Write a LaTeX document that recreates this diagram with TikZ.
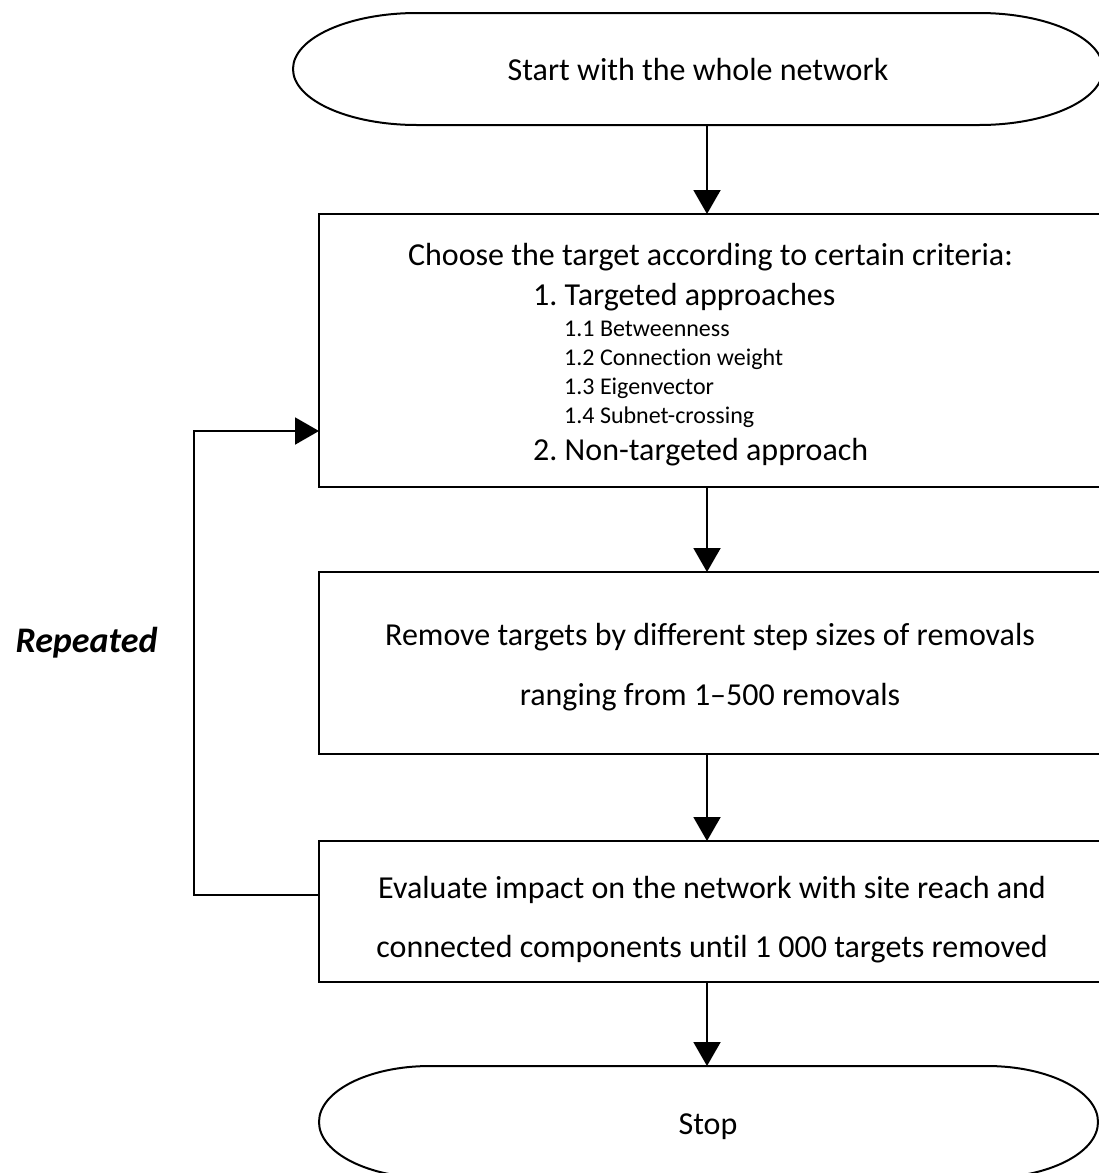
\documentclass[tikz,border=0pt]{standalone}
\usepackage{fontspec}
\setmainfont{Carlito}[Ligatures={TeX,NoCommon}]
\usetikzlibrary{arrows.meta}
\frenchspacing
\begin{document}
\begin{tikzpicture}[x=1pt,y=-1pt,
  outline/.style={draw=black, line width=2pt},
  procbox/.style={outline, rectangle, inner sep=0pt, outer sep=0pt, minimum width=782pt},
  termshape/.style={inner sep=0pt, outer sep=0pt},
  flow/.style={line width=2pt, -{Triangle[width=27pt,length=24pt]}},
  bigtext/.style={font=\fontsize{32}{38}\selectfont, inner sep=0pt},
  smalltext/.style={font=\fontsize{24}{29}\selectfont, inner sep=0pt},
]
\useasboundingbox (0,0) rectangle (1099,1173);
\clip (0,0) rectangle (1099,1173);

% terminators (start / stop)
\node[termshape, minimum width=810pt, minimum height=112pt] (start) at (698,69) {};
\node[termshape, minimum width=779pt, minimum height=112pt] (stop) at (708.5,1122) {};
\draw[outline] ([xshift=124pt]start.north west) -- ([xshift=-124pt]start.north east)
  arc[start angle=90, end angle=-90, x radius=124pt, y radius=56pt]
  -- ([xshift=124pt]start.south west)
  arc[start angle=270, end angle=90, x radius=124pt, y radius=56pt] -- cycle;
\draw[outline] ([xshift=111pt]stop.north west) -- ([xshift=-111pt]stop.north east)
  arc[start angle=90, end angle=-90, x radius=111pt, y radius=56pt]
  -- ([xshift=111pt]stop.south west)
  arc[start angle=270, end angle=90, x radius=111pt, y radius=56pt] -- cycle;

% process boxes
\node[procbox, minimum height=273pt] (choose) at (710,350.5) {};
\node[procbox, minimum height=182pt] (remove) at (710,663) {};
\node[procbox, minimum height=141pt] (evaluate) at (710,911.5) {};

% labels
\node[bigtext, anchor=base] (startlbl) at (698,80) {Start with the whole network};
\node[bigtext, anchor=base] (chooselbl) at (710.5,265) {Choose the target according to certain criteria:};
\node[bigtext, anchor=base west] (tgt) at (533,305) {1. Targeted approaches};
\node[smalltext, anchor=base west] (crit1) at (564,336) {1.1 Betweenness};
\node[smalltext, anchor=base west] (crit2) at (564,365) {1.2 Connection weight};
\node[smalltext, anchor=base west] (crit3) at (564,394) {1.3 Eigenvector};
\node[smalltext, anchor=base west] (crit4) at (564,423) {1.4 Subnet-crossing};
\node[bigtext, anchor=base west] (ntgt) at (533,460) {2. Non-targeted approach};
\node[bigtext, anchor=base] (rm1) at (710,645) {Remove targets by different step sizes of removals};
\node[bigtext, anchor=base] (rm2) at (710,705) {ranging from 1–500 removals};
\node[bigtext, anchor=base] (ev1) at (712,898) {Evaluate impact on the network with site reach and};
\node[bigtext, anchor=base] (ev2) at (712,957) {connected components until 1~000 targets removed};
\node[bigtext, anchor=base] (stoplbl) at (708,1134) {Stop};
\node[font=\fontsize{36}{40}\selectfont\bfseries\itshape, anchor=base, inner sep=0pt] (rep) at (86.5,652) {Repeated};

% connectors
\coordinate (spine) at (707,0);
\draw[flow] (start.south -| spine) -- (choose.north -| spine);
\draw[flow] (choose.south -| spine) -- (remove.north -| spine);
\draw[flow] (remove.south -| spine) -- (evaluate.north -| spine);
\draw[flow] (evaluate.south -| spine) -- (stop.north -| spine);

% feedback loop
\coordinate (loopbot) at (194,895);
\coordinate (looptop) at (194,431);
\draw[flow] (evaluate.west |- loopbot) -- (loopbot) -- (looptop) -- (choose.west |- looptop);
\end{tikzpicture}
\end{document}
